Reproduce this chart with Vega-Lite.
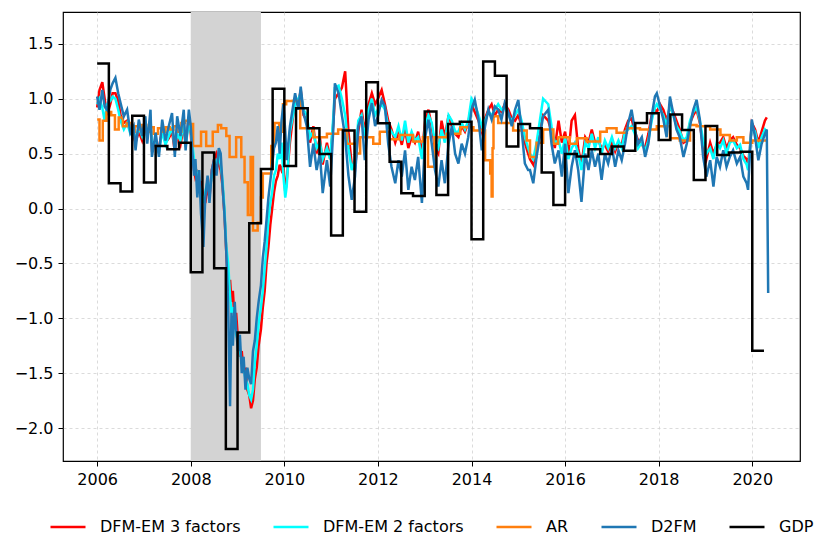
{
  "$schema": "https://vega.github.io/schema/vega-lite/v6.json",
  "autosize": "none",
  "width": 737,
  "height": 449,
  "padding": {"left": 63, "top": 12, "right": 30, "bottom": 93},
  "background": "white",
  "config": {
    "view": {"stroke": "#000000", "strokeWidth": 1.2},
    "axis": {
      "labelFont": "DejaVu Sans", "labelFontSize": 16, "labelColor": "#000000",
      "tickColor": "#000000", "tickSize": 5, "tickWidth": 1, "labelPadding": 5,
      "domain": false, "grid": true, "gridColor": "#d2d2d2", "gridDash": [3, 3], "gridWidth": 0.8
    },
    "legend": {
      "labelFont": "DejaVu Sans", "labelFontSize": 16, "labelColor": "#000000",
      "symbolType": "stroke", "symbolSize": 1225, "symbolStrokeWidth": 2.5,
      "labelOffset": 13, "columnPadding": 27, "padding": 0
    }
  },
  "datasets": {
    "f": [
      {"t":2006.00,"b":1.02,"c":0.95,"r":0.92},{"t":2006.05,"b":0.90,"c":1.00,"r":1.08},{"t":2006.11,"b":1.08,"c":0.92,"r":1.15},
      {"t":2006.16,"b":0.93,"c":0.80,"r":1.00},{"t":2006.21,"b":0.90,"c":0.95,"r":0.85},{"t":2006.28,"b":1.08,"c":0.98,"r":0.95},
      {"t":2006.33,"b":1.14,"c":1.02,"r":1.05},{"t":2006.39,"b":1.19,"c":1.00,"r":1.05},{"t":2006.45,"b":1.05,"c":0.90,"r":0.98},
      {"t":2006.50,"b":0.96,"c":0.80,"r":0.85},{"t":2006.57,"b":0.84,"c":0.72,"r":0.78},{"t":2006.64,"b":0.90,"c":0.78,"r":0.80},
      {"t":2006.71,"b":0.69,"c":0.68,"r":0.72},{"t":2006.78,"b":0.75,"c":0.70,"r":0.66},{"t":2006.82,"b":0.53,"c":0.62,"r":0.60},
      {"t":2006.89,"b":0.81,"c":0.74,"r":0.70},{"t":2006.96,"b":0.66,"c":0.66,"r":0.62},{"t":2007.03,"b":0.84,"c":0.78,"r":0.75},
      {"t":2007.07,"b":0.59,"c":0.64,"r":0.66},{"t":2007.14,"b":0.90,"c":0.82,"r":0.80},{"t":2007.17,"b":0.47,"c":0.58,"r":0.55},
      {"t":2007.25,"b":0.69,"c":0.62,"r":0.60},{"t":2007.32,"b":0.47,"c":0.52,"r":0.55},{"t":2007.39,"b":0.81,"c":0.70,"r":0.72},
      {"t":2007.46,"b":0.62,"c":0.58,"r":0.60},{"t":2007.53,"b":0.75,"c":0.66,"r":0.64},{"t":2007.60,"b":0.87,"c":0.74,"r":0.70},
      {"t":2007.66,"b":0.47,"c":0.55,"r":0.52},{"t":2007.71,"b":0.84,"c":0.68,"r":0.66},{"t":2007.78,"b":0.66,"c":0.62,"r":0.58},
      {"t":2007.85,"b":0.90,"c":0.78,"r":0.75},{"t":2007.89,"b":0.53,"c":0.56,"r":0.60},{"t":2007.96,"b":0.90,"c":0.80,"r":0.82},
      {"t":2008.00,"b":0.75,"c":0.70,"r":0.68},{"t":2008.03,"b":0.55,"c":0.60,"r":0.50},{"t":2008.07,"b":0.30,"c":0.45,"r":0.35},
      {"t":2008.10,"b":0.45,"c":0.38,"r":0.28},{"t":2008.14,"b":0.10,"c":0.30,"r":0.32},{"t":2008.18,"b":0.35,"c":0.25,"r":0.20},
      {"t":2008.22,"b":-0.05,"c":0.15,"r":0.25},{"t":2008.27,"b":-0.35,"c":0.05,"r":0.10},{"t":2008.31,"b":0.10,"c":0.15,"r":0.05},
      {"t":2008.36,"b":0.30,"c":0.25,"r":0.20},{"t":2008.40,"b":0.05,"c":0.15,"r":0.10},{"t":2008.45,"b":0.35,"c":0.30,"r":0.35},
      {"t":2008.50,"b":0.45,"c":0.40,"r":0.45},{"t":2008.55,"b":0.30,"c":0.42,"r":0.50},{"t":2008.60,"b":0.55,"c":0.48,"r":0.40},
      {"t":2008.64,"b":0.50,"c":0.40,"r":0.35},{"t":2008.68,"b":0.20,"c":0.25,"r":0.20},{"t":2008.72,"b":-0.05,"c":0.00,"r":-0.05},
      {"t":2008.76,"b":-0.40,"c":-0.35,"r":-0.40},{"t":2008.80,"b":-0.90,"c":-0.50,"r":-0.75},{"t":2008.84,"b":-1.80,"c":-0.80,"r":-0.65},
      {"t":2008.87,"b":-0.95,"c":-0.95,"r":-0.85},{"t":2008.90,"b":-1.25,"c":-0.90,"r":-0.75},{"t":2008.94,"b":-0.85,"c":-1.00,"r":-1.05},
      {"t":2008.97,"b":-1.10,"c":-1.15,"r":-0.95},{"t":2009.01,"b":-1.30,"c":-1.20,"r":-1.20},{"t":2009.05,"b":-1.15,"c":-1.30,"r":-1.35},
      {"t":2009.09,"b":-1.50,"c":-1.40,"r":-1.30},{"t":2009.13,"b":-1.35,"c":-1.45,"r":-1.50},{"t":2009.17,"b":-1.65,"c":-1.55,"r":-1.45},
      {"t":2009.21,"b":-1.45,"c":-1.60,"r":-1.65},{"t":2009.25,"b":-1.55,"c":-1.70,"r":-1.70},{"t":2009.29,"b":-1.60,"c":-1.74,"r":-1.82},
      {"t":2009.33,"b":-1.30,"c":-1.65,"r":-1.75},{"t":2009.37,"b":-1.20,"c":-1.40,"r":-1.55},{"t":2009.41,"b":-1.00,"c":-1.25,"r":-1.45},
      {"t":2009.45,"b":-0.85,"c":-1.05,"r":-1.25},{"t":2009.50,"b":-0.70,"c":-0.90,"r":-1.10},{"t":2009.54,"b":-0.45,"c":-0.75,"r":-0.90},
      {"t":2009.58,"b":-0.30,"c":-0.55,"r":-0.75},{"t":2009.62,"b":-0.10,"c":-0.35,"r":-0.50},{"t":2009.66,"b":0.10,"c":-0.10,"r":-0.35},
      {"t":2009.70,"b":0.25,"c":0.05,"r":-0.15},{"t":2009.74,"b":0.40,"c":0.15,"r":0.00},{"t":2009.78,"b":0.55,"c":0.30,"r":0.15},
      {"t":2009.82,"b":0.60,"c":0.35,"r":0.25},{"t":2009.86,"b":0.75,"c":0.50,"r":0.30},{"t":2009.90,"b":0.50,"c":0.45,"r":0.40},
      {"t":2009.94,"b":0.80,"c":0.60,"r":0.35},{"t":2009.98,"b":0.95,"c":0.30,"r":0.40},{"t":2010.02,"b":0.70,"c":0.10,"r":0.15},
      {"t":2010.05,"b":0.44,"c":0.20,"r":0.25},{"t":2010.12,"b":0.75,"c":0.70,"r":0.60},{"t":2010.23,"b":1.05,"c":0.95,"r":1.00},
      {"t":2010.30,"b":0.90,"c":1.00,"r":0.95},{"t":2010.35,"b":1.11,"c":1.05,"r":1.08},{"t":2010.41,"b":0.87,"c":0.90,"r":0.85},
      {"t":2010.48,"b":0.75,"c":0.85,"r":0.80},{"t":2010.55,"b":0.38,"c":0.65,"r":0.60},{"t":2010.62,"b":0.59,"c":0.70,"r":0.75},
      {"t":2010.69,"b":0.35,"c":0.55,"r":0.50},{"t":2010.76,"b":0.50,"c":0.60,"r":0.65},{"t":2010.82,"b":0.14,"c":0.45,"r":0.40},
      {"t":2010.91,"b":0.44,"c":0.55,"r":0.60},{"t":2010.98,"b":0.20,"c":0.45,"r":0.45},{"t":2011.05,"b":0.75,"c":0.85,"r":0.80},
      {"t":2011.08,"b":1.14,"c":1.10,"r":1.00},{"t":2011.16,"b":1.05,"c":1.12,"r":1.05},{"t":2011.23,"b":0.85,"c":1.00,"r":1.10},
      {"t":2011.30,"b":0.65,"c":0.85,"r":1.25},{"t":2011.37,"b":0.30,"c":0.55,"r":0.70},{"t":2011.44,"b":0.08,"c":0.35,"r":0.40},
      {"t":2011.51,"b":0.29,"c":0.45,"r":0.35},{"t":2011.58,"b":0.75,"c":0.80,"r":0.70},{"t":2011.65,"b":0.84,"c":0.85,"r":0.90},
      {"t":2011.72,"b":0.44,"c":0.65,"r":0.70},{"t":2011.80,"b":0.81,"c":0.90,"r":0.95},{"t":2011.87,"b":0.96,"c":1.00,"r":1.05},
      {"t":2011.94,"b":0.75,"c":0.85,"r":0.95},{"t":2012.00,"b":0.84,"c":0.90,"r":1.00},{"t":2012.08,"b":0.99,"c":0.95,"r":1.08},
      {"t":2012.15,"b":0.93,"c":0.90,"r":0.95},{"t":2012.22,"b":0.59,"c":0.75,"r":0.80},{"t":2012.29,"b":0.38,"c":0.70,"r":0.72},
      {"t":2012.37,"b":0.23,"c":0.65,"r":0.60},{"t":2012.44,"b":0.44,"c":0.75,"r":0.70},{"t":2012.51,"b":0.29,"c":0.62,"r":0.58},
      {"t":2012.58,"b":0.53,"c":0.80,"r":0.72},{"t":2012.65,"b":0.17,"c":0.60,"r":0.55},{"t":2012.72,"b":0.38,"c":0.70,"r":0.65},
      {"t":2012.79,"b":0.26,"c":0.62,"r":0.60},{"t":2012.86,"b":0.47,"c":0.65,"r":0.70},{"t":2012.94,"b":0.05,"c":0.45,"r":0.50},
      {"t":2013.01,"b":0.65,"c":0.75,"r":0.80},{"t":2013.08,"b":0.81,"c":0.85,"r":0.90},{"t":2013.15,"b":0.59,"c":0.78,"r":0.75},
      {"t":2013.22,"b":0.35,"c":0.60,"r":0.55},{"t":2013.29,"b":0.20,"c":0.55,"r":0.50},{"t":2013.36,"b":0.44,"c":0.72,"r":0.80},
      {"t":2013.43,"b":0.23,"c":0.60,"r":0.65},{"t":2013.51,"b":0.59,"c":0.85,"r":0.85},{"t":2013.58,"b":0.75,"c":0.80,"r":0.75},
      {"t":2013.65,"b":0.50,"c":0.70,"r":0.68},{"t":2013.72,"b":0.41,"c":0.70,"r":0.65},{"t":2013.79,"b":0.59,"c":0.78,"r":0.75},
      {"t":2013.86,"b":0.50,"c":0.72,"r":0.70},{"t":2013.93,"b":0.65,"c":0.80,"r":0.78},{"t":2014.00,"b":0.90,"c":1.00,"r":0.95},
      {"t":2014.07,"b":0.99,"c":0.95,"r":0.88},{"t":2014.15,"b":0.81,"c":0.85,"r":0.80},{"t":2014.22,"b":0.53,"c":0.75,"r":0.70},
      {"t":2014.29,"b":0.75,"c":0.80,"r":0.82},{"t":2014.36,"b":0.90,"c":0.88,"r":0.90},{"t":2014.43,"b":0.81,"c":0.85,"r":0.95},
      {"t":2014.50,"b":0.93,"c":0.90,"r":0.85},{"t":2014.57,"b":0.90,"c":0.95,"r":0.90},{"t":2014.64,"b":0.81,"c":0.90,"r":0.88},
      {"t":2014.71,"b":0.96,"c":0.92,"r":0.95},{"t":2014.79,"b":0.87,"c":0.85,"r":0.90},{"t":2014.86,"b":0.75,"c":0.80,"r":0.82},
      {"t":2014.93,"b":0.90,"c":0.85,"r":0.80},{"t":2015.00,"b":0.99,"c":0.90,"r":0.85},{"t":2015.07,"b":0.72,"c":0.80,"r":0.75},
      {"t":2015.14,"b":0.41,"c":0.65,"r":0.60},{"t":2015.21,"b":0.35,"c":0.55,"r":0.50},{"t":2015.25,"b":0.35,"c":0.50,"r":0.45},
      {"t":2015.32,"b":0.23,"c":0.45,"r":0.40},{"t":2015.39,"b":0.47,"c":0.60,"r":0.55},{"t":2015.46,"b":0.65,"c":0.80,"r":0.75},
      {"t":2015.53,"b":0.84,"c":1.00,"r":0.85},{"t":2015.64,"b":0.90,"c":0.95,"r":0.80},{"t":2015.71,"b":0.59,"c":0.75,"r":0.70},
      {"t":2015.78,"b":0.41,"c":0.60,"r":0.55},{"t":2015.86,"b":0.53,"c":0.62,"r":0.80},{"t":2015.93,"b":0.29,"c":0.50,"r":0.60},
      {"t":2016.00,"b":0.59,"c":0.65,"r":0.70},{"t":2016.07,"b":0.14,"c":0.45,"r":0.50},{"t":2016.14,"b":0.38,"c":0.55,"r":0.80},
      {"t":2016.21,"b":0.53,"c":0.60,"r":0.85},{"t":2016.28,"b":0.35,"c":0.50,"r":0.55},{"t":2016.35,"b":0.06,"c":0.35,"r":0.40},
      {"t":2016.43,"b":0.50,"c":0.60,"r":0.65},{"t":2016.50,"b":0.35,"c":0.55,"r":0.60},{"t":2016.57,"b":0.53,"c":0.68,"r":0.72},
      {"t":2016.64,"b":0.38,"c":0.55,"r":0.60},{"t":2016.71,"b":0.50,"c":0.65,"r":0.62},{"t":2016.78,"b":0.26,"c":0.50,"r":0.55},
      {"t":2016.85,"b":0.50,"c":0.62,"r":0.58},{"t":2016.92,"b":0.41,"c":0.55,"r":0.52},{"t":2017.00,"b":0.56,"c":0.65,"r":0.60},
      {"t":2017.07,"b":0.38,"c":0.55,"r":0.52},{"t":2017.14,"b":0.53,"c":0.62,"r":0.60},{"t":2017.21,"b":0.44,"c":0.55,"r":0.58},
      {"t":2017.28,"b":0.59,"c":0.70,"r":0.72},{"t":2017.35,"b":0.78,"c":0.72,"r":0.80},{"t":2017.42,"b":0.90,"c":0.75,"r":0.82},
      {"t":2017.49,"b":0.72,"c":0.68,"r":0.70},{"t":2017.56,"b":0.59,"c":0.55,"r":0.62},{"t":2017.64,"b":0.65,"c":0.60,"r":0.58},
      {"t":2017.71,"b":0.47,"c":0.52,"r":0.55},{"t":2017.78,"b":0.59,"c":0.62,"r":0.68},{"t":2017.85,"b":0.84,"c":0.80,"r":0.85},
      {"t":2017.92,"b":1.02,"c":0.92,"r":0.90},{"t":2017.96,"b":1.05,"c":0.95,"r":0.88},{"t":2018.03,"b":0.93,"c":0.90,"r":0.95},
      {"t":2018.10,"b":0.81,"c":0.85,"r":0.90},{"t":2018.17,"b":0.65,"c":0.75,"r":0.80},{"t":2018.24,"b":1.02,"c":0.95,"r":0.92},
      {"t":2018.31,"b":0.87,"c":0.85,"r":0.88},{"t":2018.38,"b":0.72,"c":0.75,"r":0.80},{"t":2018.45,"b":0.65,"c":0.70,"r":0.72},
      {"t":2018.53,"b":0.47,"c":0.62,"r":0.60},{"t":2018.60,"b":0.59,"c":0.65,"r":0.62},{"t":2018.67,"b":0.75,"c":0.80,"r":0.78},
      {"t":2018.74,"b":0.90,"c":0.88,"r":0.85},{"t":2018.81,"b":0.99,"c":0.92,"r":0.90},{"t":2018.88,"b":0.81,"c":0.80,"r":0.78},
      {"t":2018.95,"b":0.47,"c":0.62,"r":0.55},{"t":2019.02,"b":0.29,"c":0.50,"r":0.45},{"t":2019.10,"b":0.44,"c":0.55,"r":0.60},
      {"t":2019.17,"b":0.20,"c":0.45,"r":0.50},{"t":2019.24,"b":0.47,"c":0.60,"r":0.58},{"t":2019.31,"b":0.38,"c":0.55,"r":0.60},
      {"t":2019.38,"b":0.53,"c":0.62,"r":0.65},{"t":2019.45,"b":0.38,"c":0.50,"r":0.55},{"t":2019.52,"b":0.47,"c":0.60,"r":0.62},
      {"t":2019.59,"b":0.53,"c":0.62,"r":0.65},{"t":2019.67,"b":0.41,"c":0.55,"r":0.58},{"t":2019.74,"b":0.47,"c":0.58,"r":0.55},
      {"t":2019.81,"b":0.29,"c":0.45,"r":0.48},{"t":2019.88,"b":0.23,"c":0.40,"r":0.45},{"t":2019.91,"b":0.17,"c":0.35,"r":0.40},
      {"t":2019.95,"b":0.50,"c":0.55,"r":0.55},{"t":2019.99,"b":0.81,"c":0.75,"r":0.78},{"t":2020.06,"b":0.65,"c":0.70,"r":0.72},
      {"t":2020.13,"b":0.44,"c":0.55,"r":0.60},{"t":2020.20,"b":0.59,"c":0.65,"r":0.70},{"t":2020.27,"b":0.68,"c":0.72,"r":0.80},
      {"t":2020.31,"b":0.72,"c":0.70,"r":0.83},{"t":2020.34,"b":-0.77}
    ],
    "ar": [
      {"t":2006.00,"v":0.81},{"t":2006.05,"v":0.62},{"t":2006.12,"v":0.80},{"t":2006.20,"v":0.88},{"t":2006.30,"v":0.85},
      {"t":2006.38,"v":0.72},{"t":2006.46,"v":0.83},{"t":2006.55,"v":0.75},{"t":2006.63,"v":0.78},{"t":2006.72,"v":0.70},
      {"t":2006.80,"v":0.75},{"t":2006.88,"v":0.72},{"t":2006.96,"v":0.76},{"t":2007.05,"v":0.70},{"t":2007.13,"v":0.74},
      {"t":2007.21,"v":0.68},{"t":2007.30,"v":0.73},{"t":2007.38,"v":0.70},{"t":2007.46,"v":0.74},{"t":2007.55,"v":0.72},
      {"t":2007.63,"v":0.75},{"t":2007.71,"v":0.70},{"t":2007.80,"v":0.78},{"t":2007.88,"v":0.80},{"t":2007.96,"v":0.77},
      {"t":2008.05,"v":0.57},{"t":2008.22,"v":0.70},{"t":2008.33,"v":0.57},{"t":2008.47,"v":0.70},{"t":2008.58,"v":0.76},
      {"t":2008.65,"v":0.73},{"t":2008.76,"v":0.66},{"t":2008.83,"v":0.47},{"t":2008.97,"v":0.65},{"t":2009.08,"v":0.47},
      {"t":2009.15,"v":0.24},{"t":2009.22,"v":-0.06},{"t":2009.28,"v":0.47},{"t":2009.33,"v":-0.20},{"t":2009.43,"v":-0.13},
      {"t":2009.50,"v":0.10},{"t":2009.54,"v":0.32},{"t":2009.72,"v":0.57},{"t":2009.79,"v":0.78},{"t":2009.89,"v":0.70},
      {"t":2009.97,"v":0.95},{"t":2010.04,"v":0.98},{"t":2010.34,"v":0.73},{"t":2010.62,"v":0.65},{"t":2010.91,"v":0.68},
      {"t":2011.15,"v":0.72},{"t":2011.33,"v":0.59},{"t":2011.55,"v":0.50},{"t":2011.62,"v":0.65},{"t":2011.90,"v":0.59},
      {"t":2012.04,"v":0.70},{"t":2012.25,"v":0.63},{"t":2012.46,"v":0.67},{"t":2012.75,"v":0.61},{"t":2012.96,"v":0.65},
      {"t":2013.07,"v":0.38},{"t":2013.21,"v":0.65},{"t":2013.47,"v":0.68},{"t":2013.76,"v":0.74},{"t":2014.04,"v":0.71},
      {"t":2014.29,"v":0.44},{"t":2014.40,"v":0.32},{"t":2014.43,"v":0.11},{"t":2014.45,"v":0.55},{"t":2014.47,"v":0.84},
      {"t":2014.57,"v":0.78},{"t":2014.89,"v":0.71},{"t":2015.18,"v":0.62},{"t":2015.25,"v":0.47},{"t":2015.39,"v":0.60},
      {"t":2015.53,"v":0.72},{"t":2015.75,"v":0.59},{"t":2015.85,"v":0.65},{"t":2016.10,"v":0.59},{"t":2016.25,"v":0.64},
      {"t":2016.46,"v":0.61},{"t":2016.75,"v":0.70},{"t":2016.89,"v":0.73},{"t":2017.10,"v":0.69},{"t":2017.32,"v":0.73},
      {"t":2017.60,"v":0.72},{"t":2017.96,"v":0.75},{"t":2018.24,"v":0.64},{"t":2018.45,"v":0.62},{"t":2018.67,"v":0.76},
      {"t":2018.81,"v":0.75},{"t":2019.10,"v":0.72},{"t":2019.32,"v":0.67},{"t":2019.52,"v":0.62},{"t":2019.67,"v":0.65},
      {"t":2019.81,"v":0.60},{"t":2020.00,"v":0.62},{"t":2020.33,"v":0.62}
    ],
    "gdp": [
      {"t":2006.00,"v":1.32},{"t":2006.25,"v":0.23},{"t":2006.50,"v":0.154},{"t":2006.75,"v":0.844},
      {"t":2007.00,"v":0.236},{"t":2007.25,"v":0.57},{"t":2007.50,"v":0.54},{"t":2007.75,"v":0.60},
      {"t":2008.00,"v":-0.58},{"t":2008.25,"v":0.51},{"t":2008.50,"v":-0.545},{"t":2008.75,"v":-2.19},
      {"t":2009.00,"v":-1.13},{"t":2009.25,"v":-0.135},{"t":2009.50,"v":0.36},{"t":2009.75,"v":1.09},
      {"t":2010.00,"v":0.388},{"t":2010.25,"v":0.914},{"t":2010.50,"v":0.73},{"t":2010.75,"v":0.497},
      {"t":2011.00,"v":-0.247},{"t":2011.25,"v":0.71},{"t":2011.50,"v":-0.03},{"t":2011.75,"v":1.15},
      {"t":2012.00,"v":0.777},{"t":2012.25,"v":0.427},{"t":2012.50,"v":0.139},{"t":2012.75,"v":0.115},
      {"t":2013.00,"v":0.883},{"t":2013.25,"v":0.124},{"t":2013.50,"v":0.77},{"t":2013.75,"v":0.79},
      {"t":2014.00,"v":-0.28},{"t":2014.25,"v":1.34},{"t":2014.50,"v":1.21},{"t":2014.75,"v":0.564},
      {"t":2015.00,"v":0.77},{"t":2015.25,"v":0.73},{"t":2015.50,"v":0.327},{"t":2015.75,"v":0.032},
      {"t":2016.00,"v":0.497},{"t":2016.25,"v":0.473},{"t":2016.50,"v":0.54},{"t":2016.75,"v":0.497},
      {"t":2017.00,"v":0.564},{"t":2017.25,"v":0.527},{"t":2017.50,"v":0.78},{"t":2017.75,"v":0.868},
      {"t":2018.00,"v":0.625},{"t":2018.25,"v":0.856},{"t":2018.50,"v":0.716},{"t":2018.75,"v":0.26},
      {"t":2019.00,"v":0.752},{"t":2019.25,"v":0.488},{"t":2019.50,"v":0.51},{"t":2019.75,"v":0.518},
      {"t":2020.00,"v":-1.296},{"t":2020.25,"v":-1.296}
    ],
    "rec": [{"a":2008.0,"z":2009.5}]
  },
  "encoding": {
    "x": {
      "field": "t", "type": "quantitative", "title": null,
      "scale": {"domain": [2005.27, 2021.02], "nice": false, "zero": false},
      "axis": {"values": [2006, 2008, 2010, 2012, 2014, 2016, 2018, 2020], "format": "d"}
    }
  },
  "layer": [
    {
      "data": {"name": "rec"},
      "mark": {"type": "rect", "color": "#d3d3d3", "opacity": 1},
      "encoding": {
        "x": {"field": "a", "type": "quantitative", "title": null},
        "x2": {"field": "z"}
      }
    },
    {
      "data": {"name": "f"},
      "transform": [{"fold": ["r"], "as": ["k", "v"]}],
      "mark": {"type": "line", "strokeWidth": 2.5, "clip": true},
      "encoding": {
        "y": {
          "field": "v", "type": "quantitative", "title": null,
          "scale": {"domain": [-2.3, 1.79], "nice": false, "zero": false},
          "axis": {"values": [-2, -1.5, -1, -0.5, 0, 0.5, 1, 1.5], "format": ".1f"}
        },
        "color": {
          "datum": "DFM-EM 3 factors", "type": "nominal",
          "scale": {
            "domain": ["DFM-EM 3 factors", "DFM-EM 2 factors", "AR", "D2FM", "GDP"],
            "range": ["#ff0000", "#00ffff", "#ff7f0e", "#1f77b4", "#000000"]
          },
          "legend": {"title": null, "orient": "none", "direction": "horizontal", "legendX": -14, "legendY": 496}
        }
      }
    },
    {
      "data": {"name": "f"},
      "transform": [{"fold": ["c"], "as": ["k", "v"]}],
      "mark": {"type": "line", "strokeWidth": 2.5, "clip": true},
      "encoding": {
        "y": {"field": "v", "type": "quantitative", "title": null},
        "color": {"datum": "DFM-EM 2 factors", "type": "nominal"}
      }
    },
    {
      "data": {"name": "ar"},
      "mark": {"type": "line", "strokeWidth": 2.5, "interpolate": "step-after", "clip": true},
      "encoding": {
        "y": {"field": "v", "type": "quantitative", "title": null},
        "color": {"datum": "AR", "type": "nominal"}
      }
    },
    {
      "data": {"name": "f"},
      "transform": [{"fold": ["b"], "as": ["k", "v"]}],
      "mark": {"type": "line", "strokeWidth": 2.5, "clip": true},
      "encoding": {
        "y": {"field": "v", "type": "quantitative", "title": null},
        "color": {"datum": "D2FM", "type": "nominal"}
      }
    },
    {
      "data": {"name": "gdp"},
      "mark": {"type": "line", "strokeWidth": 2.5, "interpolate": "step-after", "clip": true},
      "encoding": {
        "y": {"field": "v", "type": "quantitative", "title": null},
        "color": {"datum": "GDP", "type": "nominal"}
      }
    }
  ]
}
